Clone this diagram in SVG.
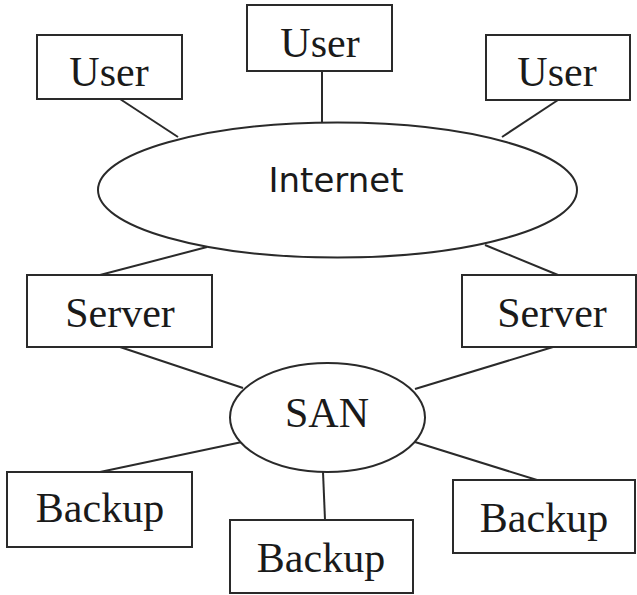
<svg xmlns="http://www.w3.org/2000/svg" width="637" height="595" viewBox="0 0 637 595">
<style>
.box{fill:#fff;stroke:#2a2a2a;stroke-width:2}
.ell{fill:#fff;stroke:#2a2a2a;stroke-width:2}
.lbl{font-family:"Liberation Serif","Times New Roman",serif;font-size:42px;fill:#1a1a1a;text-anchor:middle}
.sans{font-family:"DejaVu Sans",Verdana,sans-serif;font-size:34px;fill:#1a1a1a;text-anchor:middle}
.conn line{stroke:#2a2a2a;stroke-width:2}
</style>
<rect width="637" height="595" fill="#fff"/>
<g class="conn" id="connectors">
<line x1="120" y1="99" x2="178" y2="137"/>
<line x1="322" y1="71" x2="322" y2="122"/>
<line x1="558" y1="100" x2="502" y2="137"/>
<line x1="207" y1="247" x2="100" y2="275"/>
<line x1="485" y1="245" x2="558" y2="275"/>
<line x1="120" y1="347" x2="243" y2="388"/>
<line x1="553" y1="347" x2="415" y2="389"/>
<line x1="242" y1="442" x2="100" y2="472"/>
<line x1="323" y1="472" x2="325" y2="520"/>
<line x1="415" y1="442" x2="537" y2="480"/>
</g>
<g id="internet">
<ellipse class="ell" cx="337.5" cy="190" rx="239.5" ry="67.5"/>
<text class="sans" x="336" y="192">Internet</text>
</g>
<g id="user-left">
<rect class="box" x="37" y="35" width="145" height="64"/>
<text class="lbl" x="109" y="86">User</text>
</g>
<g id="user-middle">
<rect class="box" x="247" y="5" width="145" height="66"/>
<text class="lbl" x="320" y="57">User</text>
</g>
<g id="user-right">
<rect class="box" x="486" y="35" width="144" height="65"/>
<text class="lbl" x="557" y="86">User</text>
</g>
<g id="server-left">
<rect class="box" x="27" y="275" width="185" height="72"/>
<text class="lbl" x="120" y="327">Server</text>
</g>
<g id="server-right">
<rect class="box" x="462" y="275" width="174" height="72"/>
<text class="lbl" x="552" y="327">Server</text>
</g>
<g id="san">
<ellipse class="ell" cx="327.5" cy="417.5" rx="97.5" ry="54.5"/>
<text class="lbl" x="327" y="427">SAN</text>
</g>
<g id="backup-left">
<rect class="box" x="7" y="472" width="185" height="75"/>
<text class="lbl" x="100" y="522">Backup</text>
</g>
<g id="backup-middle">
<rect class="box" x="230" y="520" width="183" height="73"/>
<text class="lbl" x="321" y="572">Backup</text>
</g>
<g id="backup-right">
<rect class="box" x="453" y="480" width="182" height="73"/>
<text class="lbl" x="544" y="532">Backup</text>
</g>
</svg>
